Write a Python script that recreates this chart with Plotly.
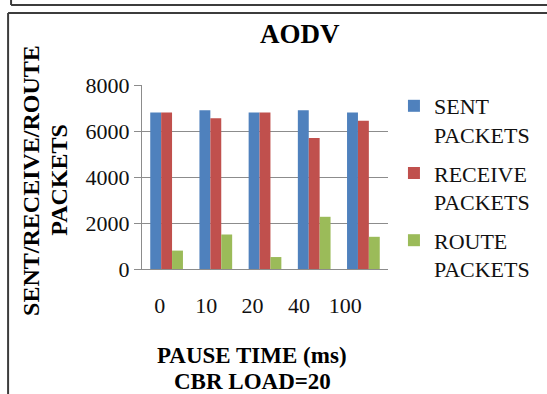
import plotly.graph_objects as go

categories = ["0", "10", "20", "40", "100"]
sent_packets = [6800, 6900, 6800, 6900, 6800]
receive_packets = [6800, 6550, 6800, 5700, 6450]
route_packets = [800, 1500, 520, 2270, 1400]
series_names = ["SENT<br>PACKETS", "RECEIVE<br>PACKETS", "ROUTE<br>PACKETS"]
series_colors = ["#4F81BD", "#C0504D", "#9BBB59"]

W, H = 547, 394
L, R, T, B = 142, 390, 85, 269  # plot area in pixels


def px(x):
    return (x - L) / (R - L)


def py(y):
    return (B - y) / (B - T)


FONT = "Liberation Serif"

fig = go.Figure()
for name, vals, col in zip(series_names, [sent_packets, receive_packets, route_packets], series_colors):
    fig.add_trace(go.Bar(x=categories, y=vals, name=name, marker_color=col,
                         marker_line_width=0, legendgroup=name))

# invisible trace to carry the tick-label axis
fig.add_trace(go.Scatter(x=categories, y=[None] * len(categories), xaxis="x2",
                         showlegend=False, hoverinfo="skip", mode="markers"))

grid = "#8c8c8c"
fig.update_layout(
    width=W, height=H,
    margin=dict(l=L, r=W - R, t=T, b=H - B, pad=0),
    paper_bgcolor="white", plot_bgcolor="white",
    font=dict(family=FONT, size=22, color="#111"),
    barmode="group", bargap=0.335, bargroupgap=0,
    title=dict(text="<b>AODV</b>", x=px(301), xref="paper", xanchor="center",
               y=1 - 34 / H, yanchor="middle", font=dict(size=27, family=FONT, color="#000")),
    xaxis=dict(type="category", showticklabels=False, ticks="", showline=True,
               linecolor=grid, linewidth=1, showgrid=False, range=[-0.5, 4.5], automargin=False),
    xaxis2=dict(type="category", overlaying="x", side="bottom", anchor="y",
                range=[-0.385, 4.92], showline=False, showgrid=False, ticks="",
                ticklabelstandoff=21, tickfont=dict(size=22, family=FONT, color="#111"),
                zeroline=False, automargin=False),
    yaxis=dict(range=[0, 8000], dtick=2000, showgrid=True, gridcolor=grid, gridwidth=1,
               showline=True, linecolor=grid, linewidth=1, ticks="outside", ticklen=7,
               tickcolor=grid, zeroline=False, automargin=False,
               tickfont=dict(size=22, family=FONT, color="#111")),
    legend=dict(x=px(396), y=py(85), xanchor="left", yanchor="top", maxheight=300,
                font=dict(size=22, family=FONT, color="#111"), valign="top",
                traceorder="grouped", tracegroupgap=7, bgcolor="rgba(0,0,0,0)"),
    showlegend=True,
)

for txt, yy in [("<b>PAUSE TIME (ms)</b>", 355), ("<b>CBR LOAD=20</b>", 381)]:
    fig.add_annotation(text=txt, xref="paper", yref="paper",
                       x=px(253), y=py(yy), xanchor="center", yanchor="middle", showarrow=False,
                       font=dict(size=23, family=FONT, color="#000"))
for txt, xx in [("<b>SENT/RECEIVE/ROUTE</b>", 30), ("<b>PACKETS</b>", 58)]:
    fig.add_annotation(text=txt, xref="paper", yref="paper",
                       x=px(xx), y=py(180), xanchor="center", yanchor="middle", showarrow=False,
                       textangle=-90, font=dict(size=24, family=FONT, color="#000"))

frame = "#3c3c3c"
for x0, y0, x1, y1 in [(10, 5, W + 5, 5), (10, -5, 10, 5), (7, 13, W + 5, 13), (7, 13, 7, H + 5)]:
    fig.add_shape(type="line", xref="paper", yref="paper", x0=px(x0), y0=py(y0), x1=px(x1), y1=py(y1),
                  line=dict(color=frame, width=2))

fig.write_html("out.html", config={"displayModeBar": False},
               post_script="document.body.style.margin='0';document.body.style.overflow='hidden';")
